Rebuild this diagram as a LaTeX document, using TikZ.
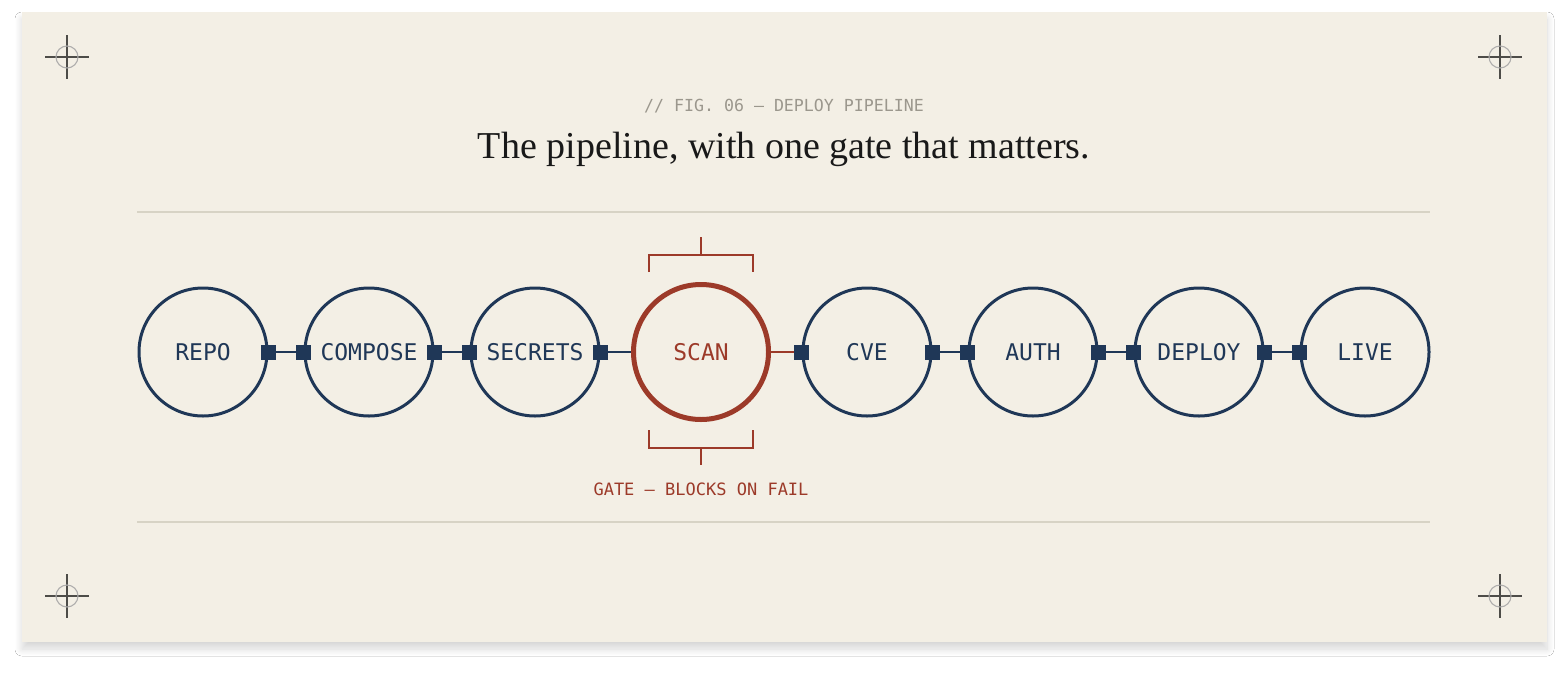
\documentclass[tikz,border=0pt]{standalone}
\usepackage{fontspec}
\setmainfont{Liberation Serif}
\newfontfamily\plexmono{DejaVu Sans Mono}
\usetikzlibrary{shapes,shadows,shadows.blur,calc}
\definecolor{paper}{HTML}{F3EFE5}
\definecolor{navy}{HTML}{1F3757}
\definecolor{rust}{HTML}{9C3A29}
\definecolor{rulegray}{HTML}{D7D3C5}
\definecolor{taggray}{HTML}{9B978D}
\definecolor{crossgray}{HTML}{4D4C48}
\tikzstyle{card} = [fill=paper, blur shadow={shadow xshift=0pt, shadow yshift=-7pt, shadow blur radius=7pt, shadow blur steps=14, shadow opacity=16}]
\tikzstyle{stage} = [circle, draw=navy, line width=3pt, minimum size=128pt, inner sep=0pt, text=navy, node distance=166pt, font=\plexmono\fontsize{23}{23}\selectfont]
\tikzstyle{gate} = [stage, draw=rust, line width=5pt, minimum size=135pt, text=rust]
\tikzstyle{port} = [rectangle, fill=navy, minimum size=15pt, inner sep=0pt]
\tikzstyle{line} = [draw=navy, line width=2.5pt]
\tikzstyle{gateline} = [draw=rust, line width=2.5pt]
\tikzstyle{bracket} = [draw=rust, line width=2pt]
\tikzstyle{rule} = [draw=rulegray, line width=1.6pt]
\tikzstyle{cross} = [draw=crossgray, line width=1.1pt]
\tikzstyle{ring} = [draw=crossgray!45, line width=1.1pt]
\tikzstyle{figtag} = [text=taggray, anchor=base, font=\plexmono\fontsize{16.6}{17}\selectfont]
\tikzstyle{headline} = [text=black!90, anchor=base, font=\fontsize{38}{38}\selectfont]
\tikzstyle{failnote} = [text=rust, font=\plexmono\fontsize{17}{17}\selectfont]
\newcommand{\regmark}[1]{%
	\draw [cross] ($#1+(-22,0)$) -- ++(44,0);
	\draw [cross] ($#1+(0,-22)$) -- ++(0,44);
	\draw [ring] #1 circle (11pt);}

\begin{document}
\begin{tikzpicture}[x=1pt, y=-1pt]
\fill [white] (0,0) rectangle (1568,672);
\useasboundingbox (0,0) rectangle (1568,672);
\fill [card] (22,12) rectangle (1547,642);

\regmark{(67,57)}
\regmark{(1500,57)}
\regmark{(67,596)}
\regmark{(1500,596)}

\node [figtag] (tag) at (784,111) {// FIG. 06 — DEPLOY PIPELINE};
\node [headline] (title) at (784,158) {The pipeline, with one gate that matters.};

\draw [rule] (137,212) -- (1430,212);
\draw [rule] (137,522) -- (1430,522);

\node [stage] (repo) at (203,352) {REPO};
\node [stage, right of=repo] (compose) {COMPOSE};
\node [stage, right of=compose] (secrets) {SECRETS};
\node [gate, right of=secrets] (scan) {SCAN};
\node [stage, right of=scan] (cve) {CVE};
\node [stage, right of=cve] (auth) {AUTH};
\node [stage, right of=auth] (deploy) {DEPLOY};
\node [stage, right of=deploy] (live) {LIVE};

\node [port] (repoR) at (repo.east) {};
\node [port] (composeL) at (compose.west) {};
\node [port] (composeR) at (compose.east) {};
\node [port] (secretsL) at (secrets.west) {};
\node [port] (secretsR) at (secrets.east) {};
\node [port] (cveL) at (cve.west) {};
\node [port] (cveR) at (cve.east) {};
\node [port] (authL) at (auth.west) {};
\node [port] (authR) at (auth.east) {};
\node [port] (deployL) at (deploy.west) {};
\node [port] (deployR) at (deploy.east) {};
\node [port] (liveL) at (live.west) {};

\path [line] (repoR) to (composeL);
\path [line] (composeR) to (secretsL);
\path [line] (secretsR) to (scan.west);
\path [gateline] (scan.east) to (cveL);
\path [line] (cveR) to (authL);
\path [line] (authR) to (deployL);
\path [line] (deployR) to (liveL);

\draw [bracket] ($(scan)+(-52,-80)$) -- ++(0,-17) -- ++(104,0) -- ++(0,17);
\draw [bracket] ($(scan)+(0,-97)$) -- ++(0,-18);
\draw [bracket] ($(scan)+(-52,78)$) -- ++(0,18) -- ++(104,0) -- ++(0,-18);
\draw [bracket] ($(scan)+(0,96)$) -- ++(0,17);

\node [failnote, below of=scan, node distance=137pt] (gatenote) {GATE — BLOCKS ON FAIL};

\end{tikzpicture}
\end{document}
